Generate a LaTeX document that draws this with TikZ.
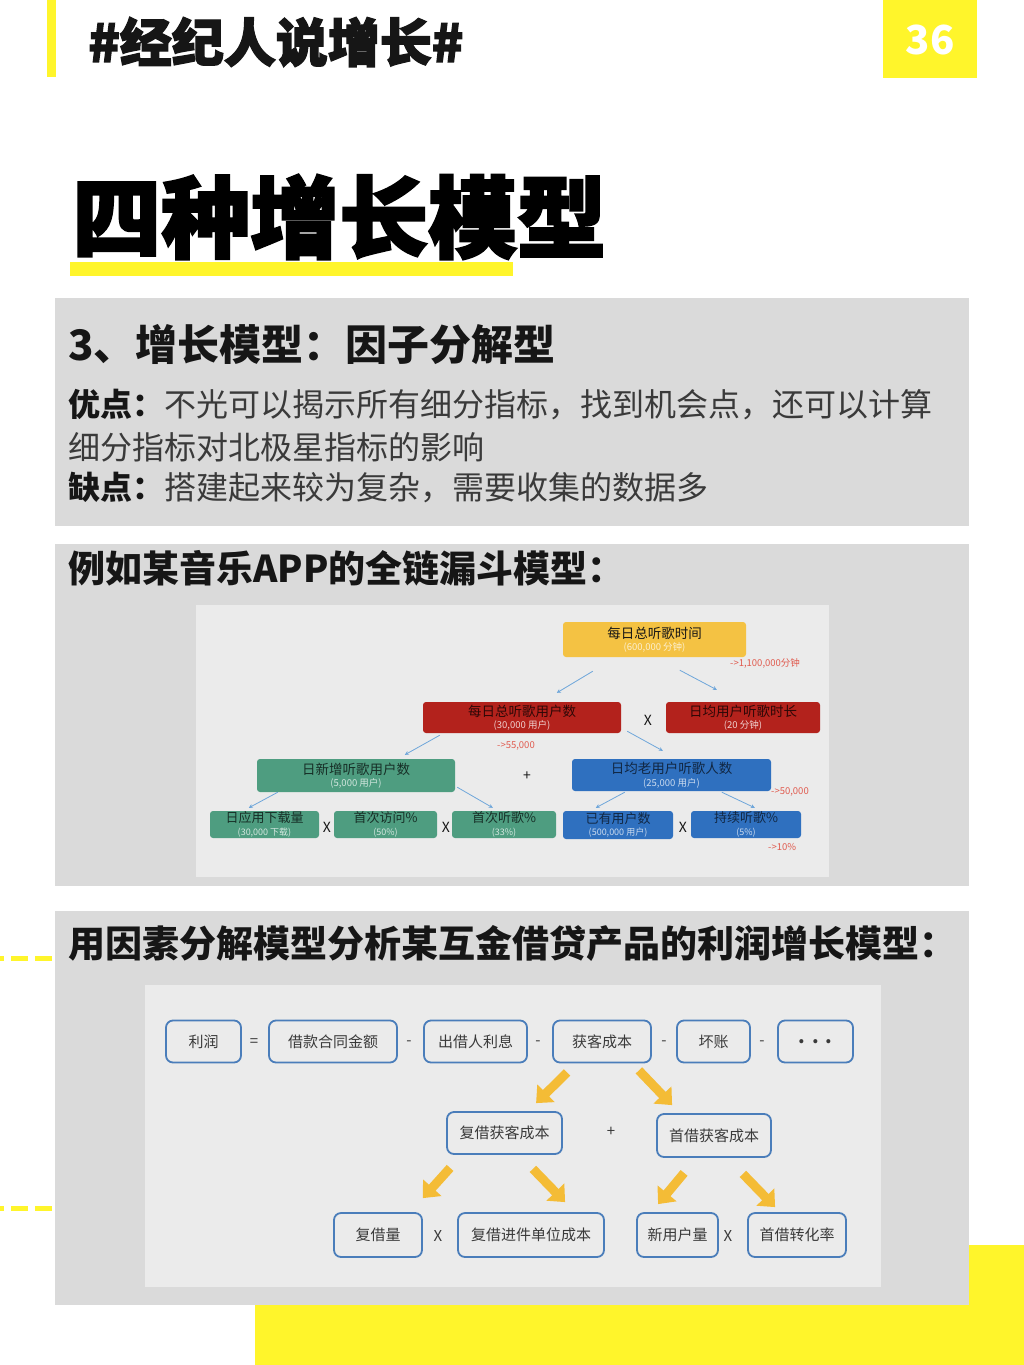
\documentclass[tikz,border=0pt]{standalone}
\usepackage{fontspec}
\setmainfont{Noto Sans CJK SC}
\newfontfamily\cjkheavy[BoldFeatures={FakeBold=2.5}]{Noto Sans CJK SC}
\usetikzlibrary{arrows.meta}
\definecolor{hiyellow}{HTML}{FFF52B}
\definecolor{panel}{HTML}{DADADA}
\definecolor{slide}{HTML}{EBEBEB}
\definecolor{ink}{HTML}{161616}
\definecolor{body}{HTML}{3A3A3A}
\definecolor{funY}{HTML}{F4C243}
\definecolor{funR}{HTML}{B3221C}
\definecolor{funG}{HTML}{4E9D80}
\definecolor{funB}{HTML}{2F70BF}
\definecolor{funarr}{HTML}{6EA6DA}
\definecolor{note}{HTML}{E05A4E}
\definecolor{boxline}{HTML}{4A7DBA}
\definecolor{fatarr}{HTML}{F4BC36}
\colorlet{subtx}{white}
\newcommand{\fs}[1]{\fontsize{#1pt}{#1pt}\selectfont}
\newcommand{\duo}[2]{{\fs{13.5}#1}\\[0.5pt]{\fs{9.5}\color{subtx}#2}}
\newcommand{\duosm}[2]{{\fs{13}#1}\\[0.5pt]{\fs{9}\color{subtx}#2}}
\tikzset{
  funbox/.style  = {rounded corners=3pt, inner sep=0pt, align=center, font=\fs{12}, text=ink},
  funYbox/.style = {funbox, fill=funY, execute at begin node={\colorlet{subtx}{white!75!funY}}},
  funRbox/.style = {funbox, fill=funR, text=black!75!funR, execute at begin node={\colorlet{subtx}{white!80!funR}}},
  funGbox/.style = {funbox, fill=funG, text=black!70!funG, execute at begin node={\colorlet{subtx}{white!75!funG}}},
  funBbox/.style = {funbox, fill=funB, text=black!65!funB, execute at begin node={\colorlet{subtx}{white!75!funB}}},
  funop/.style   = {font=\fs{14}, text=ink, inner sep=0pt},
  funnote/.style = {anchor=west, font=\fs{9.5}, text=note, inner sep=0pt},
  funlink/.style = {draw=funarr, line width=0.8pt, -{Stealth[length=4pt,width=4pt]}},
  lbox/.style    = {draw=boxline, line width=1.8pt, rounded corners=7pt, fill=slide,
                    minimum height=42pt, inner sep=0pt, font=\fs{15}, text=body},
  lop/.style     = {font=\fs{15}, text=body, inner sep=0pt},
  fatlink/.style = {draw=fatarr, line width=9pt, -{Triangle[width=24pt,length=14pt]}},
  heading/.style = {anchor=west, inner sep=0pt, text=ink},
}
\begin{document}
\begin{tikzpicture}[x=1pt, y=-1pt]
  \useasboundingbox (0,0) rectangle (1024,1365);

  % ---------- header ----------
  \fill[hiyellow] (47,0) rectangle (56,77);
  \fill[hiyellow] (883,0) rectangle (977,78);
  \node[heading, font=\cjkheavy\bfseries\fs{52}] (tag) at (88,42) {\#经纪人说增长\#};
  \node[font=\bfseries\fs{40}, text=white] (page) at (930,40) {36};
  \fill[hiyellow] (70,262) rectangle (513,276);
  \node[heading, font=\cjkheavy\bfseries\fs{89}, text=black] (title) at (72,217) {四种增长模型};

  % ---------- what the model is ----------
  \fill[panel] (55,298) rectangle (969,526);
  \node[heading, font=\bfseries\fs{42}] (kind) at (68,345) {3、增长模型：因子分解型};
  \node[heading, font=\fs{32}, text=body] (pro) at (68,405)
    {{\bfseries\color{ink}优点：}不光可以揭示所有细分指标，找到机会点，还可以计算};
  \node[heading, font=\fs{32}, text=body] (pro2) at (68,447) {细分指标对北极星指标的影响};
  \node[heading, font=\fs{32}, text=body] (con) at (68,488)
    {{\bfseries\color{ink}缺点：}搭建起来较为复杂，需要收集的数据多};

  % ---------- music app funnel ----------
  \fill[panel] (55,544) rectangle (969,886);
  \node[heading, font=\bfseries\fs{37}] (musichead) at (68,568) {例如某音乐APP的全链漏斗模型：};
  \fill[slide] (196,605) rectangle (829,877);

  \node[funYbox, minimum width=183pt, minimum height=35pt] (top)  at (654.5,639.5) {\duo{每日总听歌时间}{(600,000 分钟)}};
  \node[funRbox, minimum width=198pt, minimum height=31pt] (redL) at (522,717.5)   {\duo{每日总听歌用户数}{(30,000 用户)}};
  \node[funRbox, minimum width=154pt, minimum height=31pt] (redR) at (743,717.5)   {\duo{日均用户听歌时长}{(20 分钟)}};
  \node[funGbox, minimum width=198pt, minimum height=33pt] (green) at (356,775.5)  {\duo{日新增听歌用户数}{(5,000 用户)}};
  \node[funBbox, minimum width=199pt, minimum height=32pt] (blue) at (671.5,775)   {\duo{日均老用户听歌人数}{(25,000 用户)}};
  \node[funGbox, minimum width=109pt, minimum height=27pt] (gA) at (264.5,824.5)   {\duosm{日应用下载量}{(30,000 下载)}};
  \node[funGbox, minimum width=103pt, minimum height=27pt] (gB) at (385.5,824.5)   {\duosm{首次访问\%}{(50\%)}};
  \node[funGbox, minimum width=104pt, minimum height=27pt] (gC) at (504,824.5)     {\duosm{首次听歌\%}{(33\%)}};
  \node[funBbox, minimum width=110pt, minimum height=28pt] (bA) at (618,825)       {\duosm{已有用户数}{(500,000 用户)}};
  \node[funBbox, minimum width=110pt, minimum height=27pt] (bB) at (746,824.5)     {\duosm{持续听歌\%}{(5\%)}};

  \node[funop] (xTop) at (648,720) {X};
  \node[funop] (pMid) at (527,776) {+};
  \node[funop] (xG1)  at (327,827) {X};
  \node[funop] (xG2)  at (446,827) {X};
  \node[funop] (xB)   at (683,827) {X};

  \node[funnote] (nTop)  at (730,663) {->1,100,000分钟};
  \node[funnote] (nRed)  at (497,746) {->55,000};
  \node[funnote] (nBlue) at (771,792) {->50,000};
  \node[funnote] (nKeep) at (768,847) {->10\%};

  \draw[funlink] ([shift={(30,14)}]top.south west)   -- ([shift={(134,-9)}]redL.north west);
  \draw[funlink] ([shift={(117,13)}]top.south west)  -- ([shift={(51,-12)}]redR.north west);
  \draw[funlink] ([shift={(17,2)}]redL.south west)   -- ([shift={(148,-4)}]green.north west);
  \draw[funlink] ([shift={(6,-2)}]redL.south east)   -- ([shift={(91,-8)}]blue.north west);
  \draw[funlink] ([shift={(21,0)}]green.south west)  -- ([shift={(39,-3)}]gA.north west);
  \draw[funlink] ([shift={(2,-5)}]green.south east)  -- ([shift={(41,-3)}]gC.north west);
  \draw[funlink] ([shift={(53,1)}]blue.south west)   -- ([shift={(33,-3)}]bA.north west);
  \draw[funlink] ([shift={(150,1)}]blue.south west)  -- ([shift={(64,-3)}]bB.north west);

  % ---------- lending profit tree ----------
  \fill[hiyellow] (255,1245) rectangle (1024,1365);
  \draw[hiyellow, line width=5pt, dash pattern=on 17pt off 7pt] (52,958) -- (0,958);
  \draw[hiyellow, line width=5pt, dash pattern=on 17pt off 7pt] (52,1208) -- (0,1208);
  \fill[panel] (55,911) rectangle (969,1305);
  \node[heading, font=\bfseries\fs{37}] (loanhead) at (68,943) {用因素分解模型分析某互金借贷产品的利润增长模型：};
  \fill[slide] (145,985) rectangle (881,1287);

  \node[lbox, minimum width=75pt]  (profit)   at (203.5,1041.5) {利润};
  \node[lbox, minimum width=128pt] (loan)     at (333,1041.5)   {借款合同金额};
  \node[lbox, minimum width=103pt] (interest) at (475.5,1041.5) {出借人利息};
  \node[lbox, minimum width=98pt]  (cost)     at (602,1041.5)   {获客成本};
  \node[lbox, minimum width=73pt]  (baddebt)  at (713.5,1041.5) {坏账};
  \node[lbox, minimum width=75pt, font=\fs{19}\bfseries] (etc) at (815.5,1041.5) {.\hspace{7pt}.\hspace{7pt}.};
  \node[lop] (eq) at (254,1043) {=};
  \node[lop] (m1) at (409,1043) {-};
  \node[lop] (m2) at (538,1043) {-};
  \node[lop] (m3) at (664,1043) {-};
  \node[lop] (m4) at (762,1043) {-};

  \node[lbox, minimum width=115pt] (rcost) at (504.5,1133)  {复借获客成本};
  \node[lop] (plus) at (611,1132) {+};
  \node[lbox, minimum width=114pt, minimum height=43pt] (fcost) at (714,1135.5) {首借获客成本};

  \node[lbox, minimum width=88pt, minimum height=44pt]  (qty)  at (378,1235)   {复借量};
  \node[lop] (xq) at (438,1236) {X};
  \node[lbox, minimum width=146pt, minimum height=44pt] (unit) at (531,1235)   {复借进件单位成本};
  \node[lbox, minimum width=81pt, minimum height=44pt]  (newu) at (677.5,1235) {新用户量};
  \node[lop] (xn) at (728,1236) {X};
  \node[lbox, minimum width=98pt, minimum height=44pt]  (conv) at (797,1235)   {首借转化率};

  \draw[fatlink] ([shift={(15,9)}]cost.south west)   -- ([shift={(90,-8)}]rcost.north west);
  \draw[fatlink] ([shift={(-13,7)}]cost.south east)  -- ([shift={(16,-8)}]fcost.north west);
  \draw[fatlink] ([shift={(4,13)}]rcost.south west)  -- ([shift={(0,-14)}]qty.north east);
  \draw[fatlink] ([shift={(-30,14)}]rcost.south east) -- ([shift={(108,-10)}]unit.north west);
  \draw[fatlink] ([shift={(28,15)}]fcost.south west) -- ([shift={(22,-8)}]newu.north west);
  \draw[fatlink] ([shift={(-29,16)}]fcost.south east) -- ([shift={(28,-5)}]conv.north west);
\end{tikzpicture}
\end{document}
